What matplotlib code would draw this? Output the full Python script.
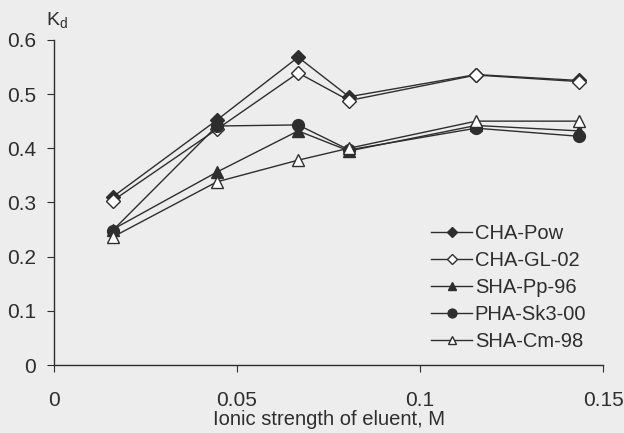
import matplotlib.pyplot as plt

plt.rcParams['font.family'] = ['Liberation Sans', 'DejaVu Sans']

ionic = [0.016, 0.0445, 0.0667, 0.0806, 0.1153, 0.1434]

series_names = ["CHA-Pow", "CHA-GL-02", "SHA-Pp-96", "PHA-Sk3-00", "SHA-Cm-98"]
cha_pow = [0.310, 0.452, 0.568, 0.495, 0.536, 0.525]
cha_gl = [0.303, 0.435, 0.539, 0.488, 0.535, 0.523]
sha_pp = [0.250, 0.356, 0.432, 0.395, 0.442, 0.432]
pha_sk = [0.248, 0.441, 0.443, 0.397, 0.437, 0.422]
sha_cm = [0.236, 0.338, 0.378, 0.400, 0.450, 0.450]

xticks = [0, 0.05, 0.1, 0.15]
xtick_labels = ["0", "0.05", "0.1", "0.15"]
yticks = [0, 0.1, 0.2, 0.3, 0.4, 0.5, 0.6]
ytick_labels = ["0", "0.1", "0.2", "0.3", "0.4", "0.5", "0.6"]

bg = '#ededed'
ink = '#2e2e2e'

fig = plt.figure(figsize=(6.24, 4.33), dpi=100, facecolor=bg)
ax = fig.add_axes([0.0865, 0.157, 0.88, 0.751])
ax.set_facecolor(bg)

styles = [
    dict(marker='D', mfc=ink, ms=7),
    dict(marker='D', mfc='white', ms=7),
    dict(marker='^', mfc=ink, ms=8.5),
    dict(marker='o', mfc=ink, ms=8.5),
    dict(marker='^', mfc='white', ms=8.5),
]
for vals, name, st in zip([cha_pow, cha_gl, sha_pp, pha_sk, sha_cm], series_names, styles):
    ax.plot(ionic, vals, color=ink, lw=1.0, mec=ink, mew=1.0, label=name, **st)

ax.set_xlim(0, 0.15)
ax.set_ylim(0, 0.6)
ax.set_xticks(xticks)
ax.set_xticklabels(xtick_labels)
ax.set_yticks(yticks)
ax.set_yticklabels(ytick_labels)
ax.spines['top'].set_visible(False)
ax.spines['right'].set_visible(False)
for s in ['left', 'bottom']:
    ax.spines[s].set_color(ink)
    ax.spines[s].set_linewidth(1.0)
ax.tick_params(axis='x', direction='out', length=5, pad=14, labelsize=15, colors=ink)
ax.tick_params(axis='y', direction='out', length=5, pad=8, labelsize=15, colors=ink)

ax.set_xlabel("Ionic strength of eluent, M", fontsize=14.5, color=ink, labelpad=0)
fig.text(0.074, 0.953, r"K$_\mathregular{d}$", fontsize=14, color=ink, ha='left', va='center')

leg = ax.legend(loc='lower right', bbox_to_anchor=(0.995, 0.0), frameon=False, fontsize=14.5,
                handlelength=2.0, handletextpad=0.15, labelspacing=0.4, borderpad=0.2,
                markerscale=0.75)
for t in leg.get_texts():
    t.set_color(ink)

fig.savefig("out.png", dpi=100, facecolor=bg)
